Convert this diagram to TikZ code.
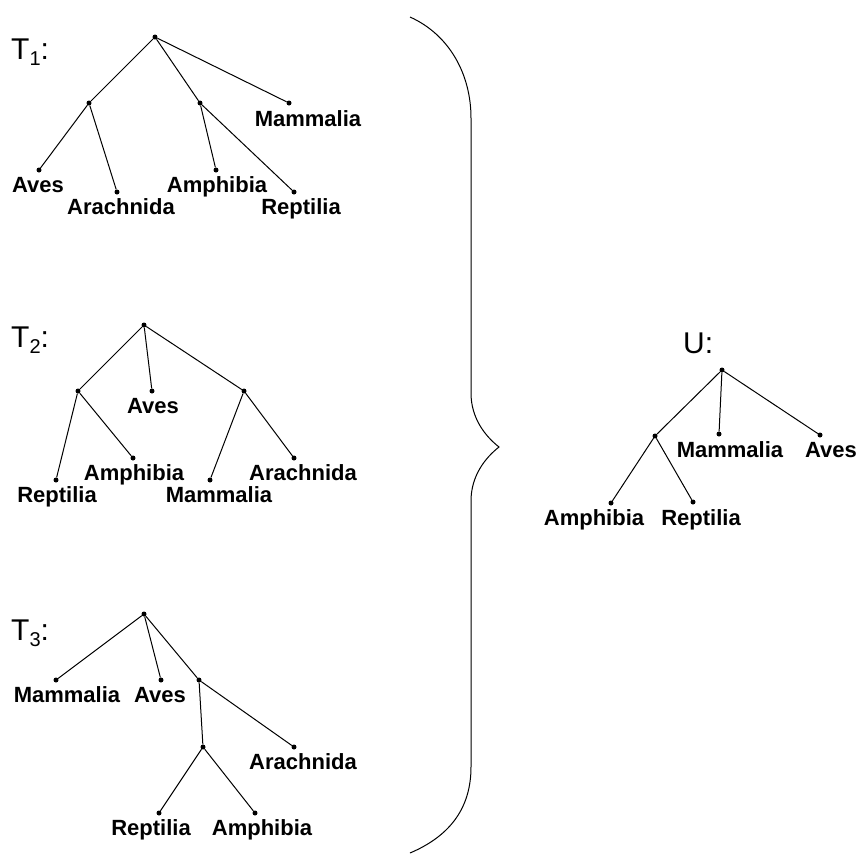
\documentclass[tikz,border=0pt]{standalone}
\usepackage{fontspec}
\setmainfont{Liberation Sans}
\begin{document}
\begin{tikzpicture}[x=1pt,y=-1pt,
  dot/.style={circle,fill,inner sep=0pt,minimum size=5pt},
  leaf/.style={font=\fontsize{22}{26}\selectfont\bfseries,anchor=base,inner sep=0pt},
  ttl/.style={font=\fontsize{30}{34}\selectfont,anchor=base west,inner sep=0pt},
  edge/.style={line width=1pt},
  brace/.style={line width=1pt}]
\useasboundingbox (0,0) rectangle (860,863);
% ---------- T1 ----------
\node[ttl] (T1) at (11,59) {T\raisebox{-0.22em}{\fontsize{20}{20}\selectfont 1}:};
\node[dot] (r1) at (155,37) {};
\node[dot] (a1) at (89,103) {};
\node[dot] (b1) at (200,103) {};
\node[dot] (mam1) at (289,103) {};
\node[dot] (aves1) at (39,170) {};
\node[dot] (arach1) at (117,192) {};
\node[dot] (amph1) at (216,170) {};
\node[dot] (rep1) at (294,192) {};
\draw[edge] (r1) -- (a1); \draw[edge] (r1) -- (b1); \draw[edge] (r1) -- (mam1);
\draw[edge] (a1) -- (aves1); \draw[edge] (a1) -- (arach1);
\draw[edge] (b1) -- (amph1); \draw[edge] (b1) -- (rep1);
\node[leaf] (lmam1) at (308,126) {Mammalia};
\node[leaf] (laves1) at (38,192) {Aves};
\node[leaf] (larach1) at (121,214) {Arachnida};
\node[leaf] (lamph1) at (217,192) {Amphibia};
\node[leaf] (lrep1) at (301,214) {Reptilia};
% ---------- T2 ----------
\node[ttl] (T2) at (11,347) {T\raisebox{-0.22em}{\fontsize{20}{20}\selectfont 2}:};
\node[dot] (r2) at (144,325) {};
\node[dot] (a2) at (78,391) {};
\node[dot] (aves2) at (152,391) {};
\node[dot] (b2) at (244,391) {};
\node[dot] (amph2) at (133,458) {};
\node[dot] (rep2) at (56,480) {};
\node[dot] (mam2) at (210,480) {};
\node[dot] (arach2) at (294,458) {};
\draw[edge] (r2) -- (a2); \draw[edge] (r2) -- (aves2); \draw[edge] (r2) -- (b2);
\draw[edge] (a2) -- (rep2); \draw[edge] (a2) -- (amph2);
\draw[edge] (b2) -- (mam2); \draw[edge] (b2) -- (arach2);
\node[leaf] (laves2) at (153,413) {Aves};
\node[leaf] (lamph2) at (134,480) {Amphibia};
\node[leaf] (lrep2) at (57,502) {Reptilia};
\node[leaf] (lmam2) at (219,502) {Mammalia};
\node[leaf] (larach2) at (303,480) {Arachnida};
% ---------- T3 ----------
\node[ttl] (T3) at (11,640) {T\raisebox{-0.22em}{\fontsize{20}{20}\selectfont 3}:};
\node[dot] (r3) at (144,614) {};
\node[dot] (mam3) at (56,680) {};
\node[dot] (aves3) at (161,680) {};
\node[dot] (a3) at (199,680) {};
\node[dot] (b3) at (203,747) {};
\node[dot] (arach3) at (294,747) {};
\node[dot] (rep3) at (159,813) {};
\node[dot] (amph3) at (255,813) {};
\draw[edge] (r3) -- (mam3); \draw[edge] (r3) -- (aves3); \draw[edge] (r3) -- (a3);
\draw[edge] (a3) -- (b3); \draw[edge] (a3) -- (arach3);
\draw[edge] (b3) -- (rep3); \draw[edge] (b3) -- (amph3);
\node[leaf] (lmam3) at (67,702) {Mammalia};
\node[leaf] (laves3) at (160,702) {Aves};
\node[leaf] (larach3) at (303,769) {Arachnida};
\node[leaf] (lrep3) at (151,835) {Reptilia};
\node[leaf] (lamph3) at (262,835) {Amphibia};
% ---------- U ----------
\node[ttl] (U) at (683,353) {U:};
\node[dot] (ru) at (722,370) {};
\node[dot] (au) at (655,436) {};
\node[dot] (mamu) at (719,434) {};
\node[dot] (avesu) at (820,435) {};
\node[dot] (amphu) at (611,503) {};
\node[dot] (repu) at (693,502) {};
\draw[edge] (ru) -- (au); \draw[edge] (ru) -- (mamu); \draw[edge] (ru) -- (avesu);
\draw[edge] (au) -- (amphu); \draw[edge] (au) -- (repu);
\node[leaf] (lmamu) at (730,457) {Mammalia};
\node[leaf] (lavesu) at (831,457) {Aves};
\node[leaf] (lamphu) at (594,525) {Amphibia};
\node[leaf] (lrepu) at (701,525) {Reptilia};
% ---------- brace ----------
\draw[brace] (410,17) .. controls (450,35) and (471,75) .. (471,118)
  -- (471,393) .. controls (471,418) and (485,436) .. (499,447)
  .. controls (485,458) and (471,476) .. (471,501)
  -- (471,767) .. controls (471,808) and (450,836) .. (410,853);
\end{tikzpicture}
\end{document}
